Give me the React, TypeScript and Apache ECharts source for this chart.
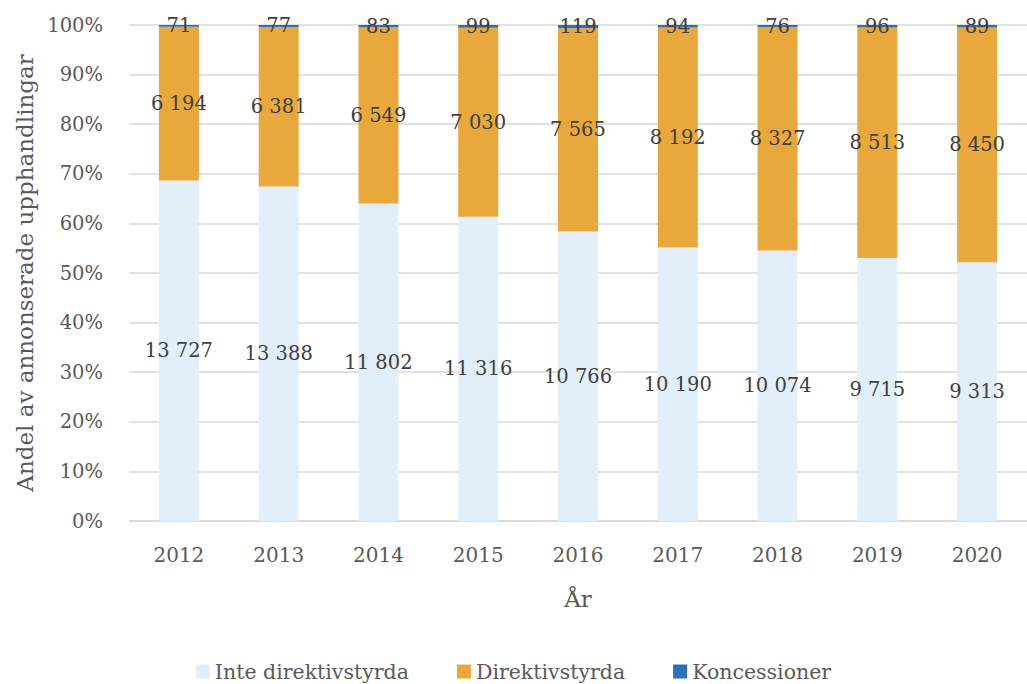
import React, { useEffect, useRef } from "react";
import * as echarts from "echarts";

const years = ["2012", "2013", "2014", "2015", "2016", "2017", "2018", "2019", "2020"];
const inteDirektivstyrda = [13727, 13388, 11802, 11316, 10766, 10190, 10074, 9715, 9313];
const direktivstyrda = [6194, 6381, 6549, 7030, 7565, 8192, 8327, 8513, 8450];
const koncessioner = [71, 77, 83, 99, 119, 94, 76, 96, 89];
const yTicks = [0, 10, 20, 30, 40, 50, 60, 70, 80, 90, 100];

const FONT = "DejaVu Serif";
const TXT = "#595959";
const LBL = "#404040";

function fmt(n: number) {
  return String(n).replace(/\B(?=(\d{3})+(?!\d))/g, " ");
}

export default function App() {
  const ref = useRef<HTMLDivElement>(null);
  useEffect(() => {
    const chart = echarts.init(ref.current!, null, { renderer: "svg" });
    const totals = years.map((_, i) => inteDirektivstyrda[i] + direktivstyrda[i] + koncessioner[i]);
    const mk = (name: string, arr: number[], color: string) => ({
      name,
      type: "bar",
      stack: "s",
      barWidth: 40,
      itemStyle: { color },
      data: arr.map((v, i) => (v / totals[i]) * 100),
      label: {
        show: true,
        position: "inside",
        color: LBL,
        fontFamily: FONT,
        fontSize: 19.5,
        formatter: (p: any) => fmt(arr[p.dataIndex]),
      },
    });
    chart.setOption({
      animation: false,
      textStyle: { fontFamily: FONT },
      grid: { left: 129, top: 25, width: 909, height: 496 },
      xAxis: {
        type: "category",
        data: years,
        name: "År",
        nameLocation: "middle",
        nameGap: 66,
        nameTextStyle: { color: TXT, fontFamily: FONT, fontSize: 23 },
        axisLine: { lineStyle: { color: "#d9d9d9", width: 1.5 } },
        axisTick: { show: false },
        axisLabel: { color: TXT, fontFamily: FONT, fontSize: 20, margin: 24 },
      },
      yAxis: {
        type: "value",
        min: yTicks[0],
        max: yTicks[yTicks.length - 1],
        interval: 10,
        name: "Andel av annonserade upphandlingar",
        nameLocation: "middle",
        nameGap: 88,
        nameTextStyle: { color: TXT, fontFamily: FONT, fontSize: 23 },
        axisLine: { show: false },
        axisTick: { show: false },
        splitLine: { lineStyle: { color: "#d9d9d9", width: 1.5 } },
        axisLabel: { color: TXT, fontFamily: FONT, fontSize: 19.5, margin: 26, formatter: "{value}%" },
      },
      legend: {
        top: 656,
        left: "center",
        itemWidth: 14,
        itemHeight: 14,
        itemGap: 48,
        icon: "rect",
        textStyle: { color: TXT, fontFamily: FONT, fontSize: 20.5 },
        data: ["Inte direktivstyrda", "Direktivstyrda", "Koncessioner"],
      },
      series: [
        mk("Inte direktivstyrda", inteDirektivstyrda, "#E2EFFB"),
        mk("Direktivstyrda", direktivstyrda, "#E9A83B"),
        mk("Koncessioner", koncessioner, "#2E70B6"),
      ],
    });
    return () => chart.dispose();
  }, []);
  return (
    <div
      ref={ref}
      style={{ position: "fixed", left: 0, top: 0, width: 1027, height: 684, background: "#fff" }}
    />
  );
}
